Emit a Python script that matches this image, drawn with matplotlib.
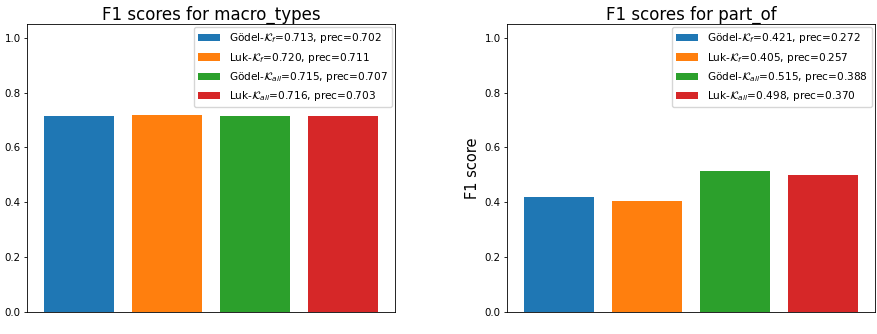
import matplotlib
matplotlib.use("Agg")
import matplotlib.pyplot as plt

# F1 scores per relation
methods = [r"Gödel-$\mathcal{K}_f$", r"Luk-$\mathcal{K}_f$",
           r"Gödel-$\mathcal{K}_{all}$", r"Luk-$\mathcal{K}_{all}$"]
colors = ["#1f77b4", "#ff7f0e", "#2ca02c", "#d62728"]

macro_f1 = [0.713, 0.720, 0.715, 0.716]
macro_prec = [0.702, 0.711, 0.707, 0.703]

partof_f1 = [0.421, 0.405, 0.515, 0.498]
partof_prec = [0.272, 0.257, 0.388, 0.370]

panels = [("macro_types", macro_f1, macro_prec),
          ("part_of", partof_f1, partof_prec)]

fig = plt.figure(figsize=(8.78, 3.34), dpi=100)
lefts = [27 / 878, 507 / 878]

for left, (name, f1, prec) in zip(lefts, panels):
    ax = fig.add_axes([left, 22 / 334, 368 / 878, 288 / 334])
    for i in range(len(methods)):
        ax.bar(i, f1[i], width=0.8, color=colors[i],
               label=f"{methods[i]}={f1[i]:.3f}, prec={prec[i]:.3f}")
    ax.set_ylim(0, 1.05)
    ax.set_xticks([])
    ax.tick_params(axis="y", labelsize=7.4, length=2.5, width=0.6, pad=2)
    for sp in ax.spines.values():
        sp.set_linewidth(0.6)
    ax.set_title(f"F1 scores for {name}", fontsize=12, pad=3)
    ax.set_ylabel("F1 score", fontsize=10.5, labelpad=3)
    ax.legend(loc="upper right", fontsize=7.6, handlelength=2.1,
              borderaxespad=0.3)

fig.savefig("out.png", dpi=100)
